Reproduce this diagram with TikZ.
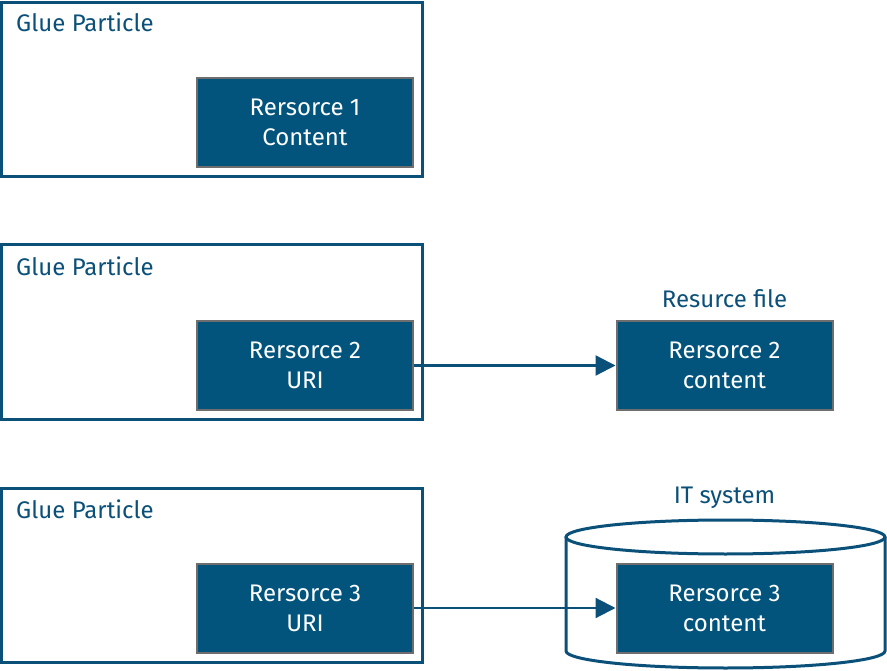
\documentclass[tikz,border=0pt]{standalone}
\usepackage{fontspec}
\setmainfont{Fira Sans}
\usetikzlibrary{arrows.meta}
\definecolor{resblue}{HTML}{02547D}
\definecolor{resgrey}{HTML}{6E6E6E}
\definecolor{lineblue}{HTML}{0B5079}
\begin{document}
\begin{tikzpicture}[x=1pt,y=-1pt,>={Triangle[length=20pt,width=20pt]},font=\fontsize{24}{30}\selectfont,
	glue/.style={draw=lineblue,line width=3pt,minimum width=421pt,minimum height=174pt,inner sep=0pt},
	res/.style={draw=resgrey,line width=2pt,fill=resblue,text=white,minimum width=216pt,minimum height=89pt,align=center,inner sep=0pt},
	lbl/.style={text=lineblue,inner sep=0pt}]
				\useasboundingbox (0,0) rectangle (887,671);
				% glue particles
				\node[glue] (glueA) at (211.5,90) {};
				\node[glue] (glueB) at (211.5,332) {};
				\node[glue] (glueC) at (211.5,575) {};
				\node[lbl,anchor=base west] at (16,32) {Glue Particle};
				\node[lbl,anchor=base west] at (16,276) {Glue Particle};
				\node[lbl,anchor=base west] at (16,518) {Glue Particle};
				% IT system
				\draw[lineblue,line width=3pt] (566,537) -- (566,651) arc[start angle=180,end angle=0,x radius=159.5,y radius=17] -- (885,537);
				\draw[lineblue,line width=3pt] (725.5,537) ellipse[x radius=159.5,y radius=17];
				% resources
				\node[res] (resA) at (305,122.5) {Rersorce 1\\Content};
				\node[res] (resB) at (305,365.5) {Rersorce 2\\URI};
				\node[res] (resC) at (305,608) {Rersorce 3\\URI};
				\node[res] (fileB) at (724.5,365.5) {Rersorce 2\\content};
				\node[res] (fileC) at (724.5,608) {Rersorce 3\\content};
				\node[lbl,anchor=base] at (724.5,308) {Resurce file};
				\node[lbl,anchor=base] at (724.5,503) {IT system};
				\draw[->,lineblue,line width=2.2pt] (resB) -- (fileB);
				\draw[->,lineblue,line width=2.2pt] (resC) -- (fileC);
			\end{tikzpicture}
\end{document}
